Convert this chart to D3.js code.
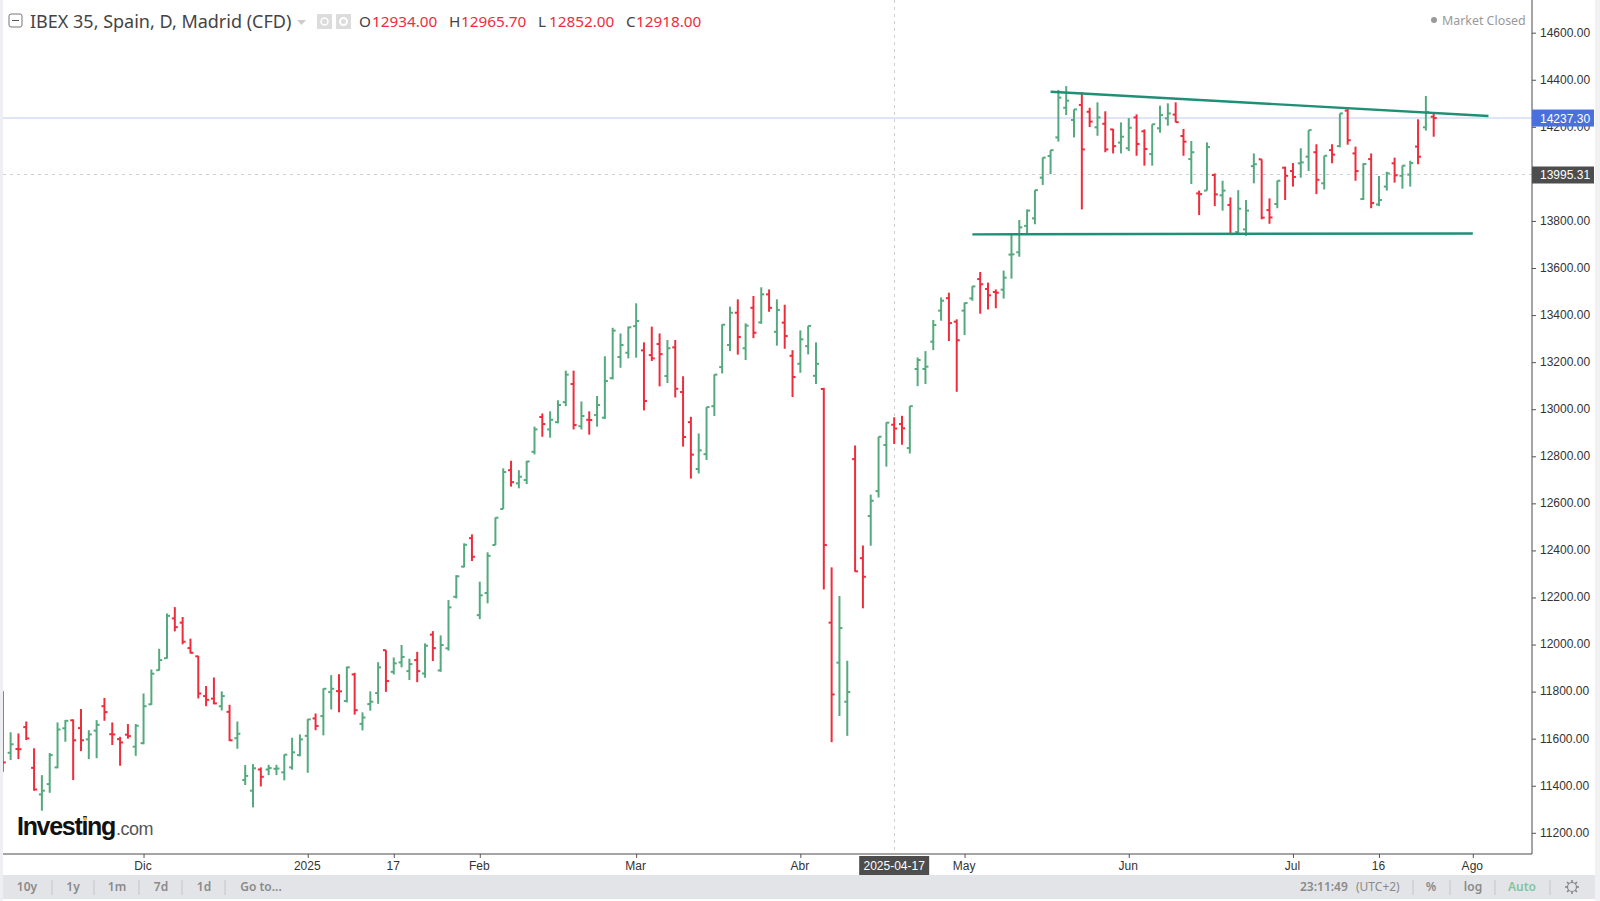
<!DOCTYPE html>
<html>
<head>
<meta charset="utf-8">
<title>IBEX 35</title>
<script src="https://cdnjs.cloudflare.com/ajax/libs/d3/7.8.5/d3.min.js"></script>
<style>
  html, body { margin: 0; padding: 0; background: #fff; overflow: hidden; }
  svg { display: block; }
  text { font-family: "Liberation Sans", Arial, sans-serif; }
  .hdr text, text.hdr { font-family: "Noto Sans", sans-serif; }
  .bar-text { font-family: "Noto Sans", sans-serif; font-size: 12px; font-weight: 600; fill: #8a8a8a; }
</style>
</head>
<body>
<script>
// daily bars
var opens = [11792,11540,11556,11649,11476,11363,11407,11478,11644,11678,
  11645,11597,11634,11738,11619,11598,11617,11566,11581,11746,
  11891,11942,12111,12093,11985,11950,11781,11770,11738,11714,
  11602,11424,11379,11469,11469,11472,11457,11478,11530,11612,
  11686,11696,11798,11802,11760,11873,11663,11747,11794,11976,
  11884,11924,11887,11934,11877,12042,11890,11984,12203,12331,
  12452,12125,12219,12423,12576,12741,12685,12699,12819,12967,
  12914,12945,13030,13107,12928,12955,12975,12964,13132,13222,
  13240,13353,13250,13230,13277,13141,13263,13073,12945,12746,
  12809,13013,13179,13273,13410,13259,13431,13369,13488,13329,
  13368,13227,13193,13268,13142,13086,12093,11923,11757,12788,
  12367,12546,12652,12848,12934,12937,12835,13171,13171,13287,
  13419,13472,13372,13419,13471,13553,13511,13498,13508,13657,
  13667,13779,13811,13984,14076,14155,14281,14229,14293,14264,
  14198,14213,14189,14133,14109,14240,14181,14084,14194,14236,
  14252,14161,14063,13917,13929,13995,13909,13868,13753,13764,
  14033,14062,13846,13872,14026,14012,14045,14073,14092,13960,
  14101,14118,14269,14087,13893,14063,13870,13946,14045,13992,
  13997,14116,14198,14243];
var highs = [11802,11627,11622,11673,11559,11445,11539,11669,11679,11682,
  11726,11636,11679,11773,11669,11608,11662,11662,11792,11894,
  11982,12132,12159,12117,12025,11952,11824,11860,11801,11744,
  11673,11488,11492,11478,11489,11489,11533,11604,11618,11683,
  11707,11814,11870,11874,11906,11880,11712,11801,11925,11976,
  11945,11998,11940,11969,12005,12057,12039,12189,12295,12430,
  12468,12267,12392,12540,12749,12781,12741,12780,12926,12982,
  12991,13038,13164,13164,13033,12991,13056,13225,13346,13322,
  13351,13450,13284,13351,13322,13294,13294,13140,12968,12897,
  13009,13148,13361,13436,13467,13365,13481,13518,13509,13467,
  13444,13251,13335,13354,13284,13091,12328,12206,11931,12846,
  12421,12637,12883,12944,12965.7,12972,13013,13220,13247,13379,
  13475,13495,13382,13453,13523,13583,13538,13509,13589,13743,
  13804,13849,13931,14070,14101,14357,14373,14274,14347,14281,
  14304,14266,14191,14219,14237,14253,14189,14211,14290,14300,
  14304,14191,14140,13929,14134,14002,13971,13900,13931,13889,
  14087,14062,13896,13971,14031,14046,14109,14186,14126,14077,
  14126,14257,14279,14116,14045,14087,13991,14009,14069,14036,
  14056,14232,14331,14260];
var lows = [11459,11509,11513,11594,11379,11294,11370,11474,11587,11424,
  11547,11513,11517,11676,11573,11485,11600,11527,11576,11743,
  11889,11940,12056,12001,11962,11771,11738,11746,11720,11590,
  11557,11403,11308,11397,11445,11445,11423,11468,11525,11455,
  11636,11614,11724,11712,11754,11702,11635,11719,11748,11799,
  11873,11903,11849,11840,11859,11930,11884,11974,12196,12328,
  12355,12108,12175,12423,12576,12671,12664,12682,12808,12883,
  12879,12940,13013,12914,12914,12892,12926,12958,13127,13176,
  13216,13219,12995,13205,13097,13111,13050,12841,12705,12727,
  12784,12971,13152,13247,13232,13209,13302,13363,13414,13270,
  13257,13052,13155,13233,13107,12234,11585,11696,11612,12309,
  12154,12420,12625,12756,12852,12849,12812,13098,13107,13251,
  13376,13290,13074,13315,13461,13406,13424,13429,13470,13555,
  13648,13747,13786,13953,13999,14137,14250,14155,13849,14199,
  14162,14092,14087,14087,14097,14077,14035,14035,14175,14205,
  14219,14077,13957,13825,13929,13863,13844,13744,13747,13737,
  13960,13807,13788,13854,13889,13946,13984,14012,13914,13934,
  14045,14113,14124,13971,13889,13854,13863,13929,13963,13937,
  13946,14041,14184,14158];
var closes = [11499,11576,11555,11601,11384,11379,11530,11639,11676,11593,
  11593,11618,11659,11713,11618,11584,11611,11655,11738,11876,
  11934,12122,12074,12012,11965,11792,11765,11750,11781,11593,
  11621,11442,11474,11438,11475,11473,11532,11542,11597,11682,
  11654,11812,11812,11801,11903,11721,11690,11757,11903,11845,
  11920,11947,11917,11887,11995,11985,11998,12158,12290,12424,
  12373,12209,12377,12539,12733,12690,12713,12778,12914,12937,
  12955,13018,13147,12933,12971,12954,13018,13120,13334,13273,
  13348,13375,13035,13216,13234,13259,13087,12882,12807,12825,
  13009,13147,13359,13410,13307,13355,13325,13488,13431,13422,
  13311,13137,13297,13354,13193,12423,11788,12070,11798,12311,
  12288,12611,12883,12943,12918,12919,13013,13209,13181,13358,
  13461,13366,13293,13451,13522,13531,13484,13495,13559,13658,
  13773,13844,13931,14069,14101,14324,14311,14274,14104,14222,
  14240,14104,14118,14158,14196,14127,14106,14211,14250,14257,
  14220,14137,14092,13914,14114,13913,13929,13744,13852,13844,
  14041,13814,13815,13971,13992,13987,14049,14186,13975,14077,
  14082,14257,14143,14012,14042,13876,13889,14002,13994,14035,
  14046,14073,14263,14237.3];

var priceTicks = [11200,11400,11600,11800,12000,12200,12400,12600,12800,13000,
  13200,13400,13600,13800,14000,14200,14400,14600];
var timeTickBars = [18,39,50,61,81,102,123,144,165,176,188];
var timeTickLabels = ["Dic","2025","17","Feb","Mar","Abr","May","Jun","Jul","16","Ago"];

// trend lines as [bar, price]
var upperTrend = [[134,14349],[190,14246]];
var lowerTrend = [[124,13743],[188,13747]];

var lastPrice = 14237.30;
var crossPrice = 13995.31;
var crossBar = 114;
var crossDate = "2025-04-17";

var leftTools = ["10y","1y","1m","7d","1d","Go to..."];
var leftToolX = [27,73,117,161,204,261];
var leftSepX = [52,94,139,182,225];
var rightSepX = [1413,1450,1495,1550];

var GREEN = "#55a97e", RED = "#ee2c3c";
var width = 1600, height = 901;

var svg = d3.select("body").append("svg")
    .attr("width", width)
    .attr("height", height);

var x = d3.scaleLinear().domain([0,183]).range([2.8,1433.7]);
var y = d3.scaleLinear().domain([11200,14600]).range([832.8,32.7]);
var axisX = 1532, axisY = 854;

// guides under the bars
svg.append("line")
    .attr("x1",3).attr("x2",axisX)
    .attr("y1",y(lastPrice)).attr("y2",y(lastPrice))
    .attr("stroke","#d3ddf6").attr("stroke-width",1.6);
svg.append("line")
    .attr("x1",3).attr("x2",axisX)
    .attr("y1",y(crossPrice)).attr("y2",y(crossPrice))
    .attr("stroke","#cfcfcf").attr("stroke-width",1)
    .attr("stroke-dasharray","3 4")
    .attr("shape-rendering","crispEdges");
svg.append("line")
    .attr("x1",x(crossBar)).attr("x2",x(crossBar))
    .attr("y1",0).attr("y2",axisY)
    .attr("stroke","#cfcfcf").attr("stroke-width",1)
    .attr("stroke-dasharray","3 4")
    .attr("shape-rendering","crispEdges");

// OHLC bars
var bars = svg.append("g").selectAll("g")
    .data(d3.range(opens.length))
    .enter()
    .append("g")
    .attr("stroke", function(i){ return closes[i] >= opens[i] ? GREEN : RED; })
    .attr("stroke-width",2);
bars.append("line")
    .attr("x1",function(i){ return x(i); })
    .attr("x2",function(i){ return x(i); })
    .attr("y1",function(i){ return y(highs[i]); })
    .attr("y2",function(i){ return y(lows[i]); });
bars.append("line")
    .attr("x1",function(i){ return x(i)-3; })
    .attr("x2",function(i){ return x(i); })
    .attr("y1",function(i){ return y(opens[i]); })
    .attr("y2",function(i){ return y(opens[i]); });
bars.append("line")
    .attr("x1",function(i){ return x(i); })
    .attr("x2",function(i){ return x(i)+3; })
    .attr("y1",function(i){ return y(closes[i]); })
    .attr("y2",function(i){ return y(closes[i]); });

// trend lines
var trend = d3.line()
    .x(function(d){ return x(d[0]); })
    .y(function(d){ return y(d[1]); });
svg.selectAll("path.trend")
    .data([upperTrend,lowerTrend])
    .enter()
    .append("path")
    .attr("class","trend")
    .attr("d",trend)
    .attr("fill","none")
    .attr("stroke","#1f8f75")
    .attr("stroke-width",2.4);

// side strips
svg.append("rect").attr("x",0).attr("y",0).attr("width",3).attr("height",height).attr("fill","#eeeff3");
svg.append("rect").attr("x",1595).attr("y",0).attr("width",5).attr("height",height).attr("fill","#f1f1f4");

// axes
var yAxis = d3.axisRight(y)
    .tickValues(priceTicks)
    .tickFormat(d3.format(".2f"))
    .tickSize(4)
    .tickPadding(4);
var yG = svg.append("g").attr("transform","translate("+axisX+",0)").call(yAxis);
yG.select(".domain").remove();
yG.selectAll("text").attr("dy","0.28em");

var xAxis = d3.axisBottom(x)
    .tickValues(timeTickBars)
    .tickFormat(function(d,i){ return timeTickLabels[i]; })
    .tickSize(4)
    .tickPadding(3);
var xG = svg.append("g").attr("transform","translate(0,"+axisY+")").call(xAxis);
xG.select(".domain").remove();
xG.selectAll("text").attr("dx",-1);

[yG,xG].forEach(function(g){
  g.selectAll("text").attr("font-size",12).attr("font-family","Liberation Sans").attr("fill","#333");
  g.selectAll("line").attr("stroke","#555");
});

svg.append("line").attr("x1",3).attr("x2",axisX).attr("y1",axisY).attr("y2",axisY).attr("stroke","#4a4a4a").attr("stroke-width",1);
svg.append("line").attr("x1",axisX).attr("x2",axisX).attr("y1",0).attr("y2",axisY).attr("stroke","#4a4a4a").attr("stroke-width",1);

// price tags on the axis
function priceTag(p, fill){
  svg.append("rect").attr("x",axisX).attr("y",y(p)-8.5).attr("width",62).attr("height",17).attr("fill",fill);
  svg.append("text").attr("x",axisX+8).attr("y",y(p)+4.5)
    .attr("font-size",12).attr("fill","#fff").text(d3.format(".2f")(p));
}
priceTag(lastPrice,"#4a70dd");
priceTag(crossPrice,"#4d4d4d");

// date tag
svg.append("rect").attr("x",x(crossBar)-35).attr("y",axisY+2).attr("width",70).attr("height",19).attr("fill","#4d4d4d");
svg.append("text").attr("x",x(crossBar)).attr("y",axisY+16).attr("text-anchor","middle")
    .attr("font-size",12).attr("fill","#fff").text(crossDate);

// legend
var hdr = svg.append("g").attr("class","hdr");
hdr.append("rect").attr("x",9).attr("y",14).attr("width",13).attr("height",13).attr("rx",2)
    .attr("fill","#fff").attr("stroke","#777");
hdr.append("line").attr("x1",12).attr("x2",19).attr("y1",20.5).attr("y2",20.5).attr("stroke","#555");
hdr.append("text").attr("x",30).attr("y",28).attr("font-size",18).attr("fill","#444")
    .text("IBEX 35, Spain, D, Madrid (CFD)");
hdr.append("path").attr("d","M297,20 L306,20 L301.5,25 Z").attr("fill","#ccc");
hdr.append("rect").attr("x",317).attr("y",14).attr("width",15).attr("height",15).attr("fill","#dcdcdc");
hdr.append("circle").attr("cx",324.5).attr("cy",21.5).attr("r",3.5).attr("fill","none").attr("stroke","#fff").attr("stroke-width",1.5);
hdr.append("rect").attr("x",336).attr("y",14).attr("width",15).attr("height",15).attr("fill","#dcdcdc");
hdr.append("circle").attr("cx",343.5).attr("cy",21.5).attr("r",3.5).attr("fill","none").attr("stroke","#fff").attr("stroke-width",2);

var ohlcKeys = ["O","H","L","C"];
var ohlcVals = ["12934.00","12965.70","12852.00","12918.00"];
var ohlcKeyX = [359,449,538,626];
var ohlcValX = [372,461,549,636];
ohlcKeys.forEach(function(k,i){
  hdr.append("text").attr("x",ohlcKeyX[i]).attr("y",27).attr("font-size",15.3).attr("fill","#444").text(k);
  hdr.append("text").attr("x",ohlcValX[i]).attr("y",27).attr("font-size",15.3).attr("fill",RED).text(ohlcVals[i]);
});

hdr.append("circle").attr("cx",1434).attr("cy",20).attr("r",3).attr("fill","#999");
hdr.append("text").attr("x",1442).attr("y",24.5).attr("font-size",12.4).attr("fill","#999").text("Market Closed");

// logo
svg.append("text").attr("x",17).attr("y",835).attr("font-size",25).attr("font-weight",700)
    .attr("letter-spacing",-1.3).attr("fill","#111").text("Investing");
svg.append("text").attr("x",116).attr("y",835).attr("font-size",18)
    .attr("letter-spacing",-0.5).attr("fill","#555").text(".com");
svg.append("circle").attr("cx",85).attr("cy",819).attr("r",2).attr("fill","#f5b041");

// bottom toolbar
svg.append("rect").attr("x",3).attr("y",875).attr("width",1592).attr("height",24).attr("fill","#e3e4e8");
leftTools.forEach(function(t,i){
  svg.append("text").attr("class","bar-text").attr("x",leftToolX[i]).attr("y",891)
    .attr("text-anchor","middle").text(t);
});
leftSepX.concat(rightSepX).forEach(function(sx){
  svg.append("line").attr("x1",sx).attr("x2",sx).attr("y1",880).attr("y2",895).attr("stroke","#c4c5c9");
});
svg.append("text").attr("class","bar-text").attr("x",1300).attr("y",891).text("23:11:49");
svg.append("text").attr("class","bar-text").attr("x",1356).attr("y",891).style("font-weight",400).text("(UTC+2)");
svg.append("text").attr("class","bar-text").attr("x",1431).attr("y",891).attr("text-anchor","middle").text("%");
svg.append("text").attr("class","bar-text").attr("x",1473).attr("y",891).attr("text-anchor","middle").text("log");
svg.append("text").attr("class","bar-text").attr("x",1522).attr("y",891).attr("text-anchor","middle").style("fill","#7fc4a0").text("Auto");

// settings gear
var gear = svg.append("g").attr("transform","translate(1572,887)");
gear.selectAll("line").data(d3.range(8)).enter().append("line")
    .attr("x1",0).attr("y1",-4.5).attr("x2",0).attr("y2",-7)
    .attr("stroke","#888").attr("stroke-width",1.6)
    .attr("transform",function(d){ return "rotate("+(d*45)+")"; });
gear.append("circle").attr("r",4.5).attr("fill","none").attr("stroke","#888").attr("stroke-width",1.2);
</script>
</body>
</html>
